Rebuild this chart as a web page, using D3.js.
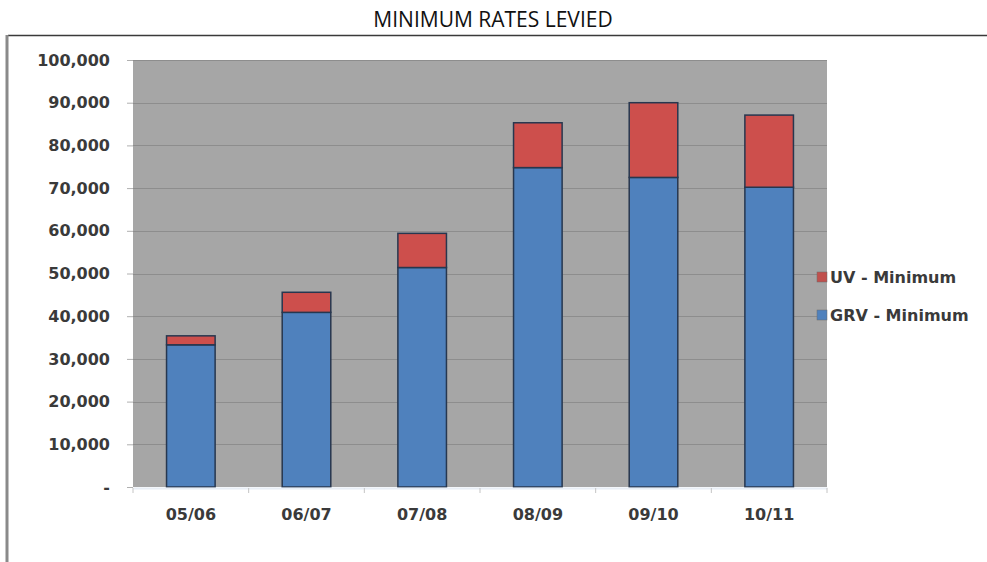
<!doctype html>
<html lang="en">
  <head>
    <meta charset="utf-8">
    <script src="https://cdnjs.cloudflare.com/ajax/libs/d3/7.8.5/d3.min.js"></script>
    <style>
      body { margin: 0; background: #fff; }
      .tick text { font-family: "DejaVu Sans", Verdana, sans-serif; font-weight: bold; font-size: 16px; fill: #3a3a3a; }
      .legend text { font-family: "DejaVu Sans", Verdana, sans-serif; font-weight: bold; font-size: 16px; fill: #3a3a3a; }
    </style>
    <title>Minimum Rates Levied</title>
  </head>
  <body>
    <div id="chart"></div>
    <script>
      // data
      var years = ["05/06", "06/07", "07/08", "08/09", "09/10", "10/11"];
      var grvMinimum = [33300, 40900, 51400, 74800, 72500, 70200];
      var uvMinimum = [2100, 4700, 8000, 10500, 17500, 16900];
      var seriesNames = ["GRV - Minimum", "UV - Minimum"];
      var yTicks = [0, 10000, 20000, 30000, 40000, 50000, 60000, 70000, 80000, 90000, 100000];

      var width = 987, height = 562;
      var plot = {left: 133, right: 827, top: 60, bottom: 487};

      var svg = d3.select("#chart").append("svg")
          .attr("width", width)
          .attr("height", height);

      // title
      svg.append("text")
          .attr("x", 493)
          .attr("y", 27)
          .attr("text-anchor", "middle")
          .style("font-family", "'Open Sans', sans-serif")
          .style("font-size", "21px")
          .style("fill", "#111")
          .text("MINIMUM RATES LEVIED");

      // frame around the chart object
      svg.append("line").attr("x1", 8).attr("x2", 987).attr("y1", 35.5).attr("y2", 35.5)
          .attr("stroke", "#3a3a3a").attr("stroke-width", 1.5);
      svg.append("line").attr("x1", 7).attr("x2", 7).attr("y1", 35).attr("y2", 562)
          .attr("stroke", "#8a8a8a").attr("stroke-width", 3);

      var x = d3.scaleBand()
          .domain(years)
          .range([plot.left, plot.right])
          .paddingInner(0.58)
          .paddingOuter(0.29);

      var y = d3.scaleLinear()
          .domain([0, 100000])
          .range([plot.bottom, plot.top]);

      // plot area
      svg.append("rect")
          .attr("x", plot.left)
          .attr("y", plot.top)
          .attr("width", plot.right - plot.left)
          .attr("height", plot.bottom - plot.top)
          .attr("fill", "#a6a6a6");

      // gridlines
      svg.append("g")
          .selectAll("line")
          .data(yTicks.slice(1))
          .enter().append("line")
            .attr("x1", plot.left)
            .attr("x2", plot.right)
            .attr("y1", d => Math.round(y(d)) + 0.5)
            .attr("y2", d => Math.round(y(d)) + 0.5)
            .attr("stroke", "#8d8d8d")
            .attr("stroke-width", 1);

      // y axis
      var fmt = d3.format(",");
      var yAxis = svg.append("g")
          .attr("transform", "translate(" + plot.left + ",0)")
          .call(d3.axisLeft(y)
              .tickValues(yTicks)
              .tickSize(6)
              .tickPadding(17)
              .tickFormat(d => d === 0 ? "-" : fmt(d)));
      yAxis.select(".domain").remove();
      yAxis.selectAll(".tick line").attr("stroke", "#b0b0b0");

      // stacked bars
      var rows = years.map((yr, i) => ({year: yr, grv: grvMinimum[i], uv: uvMinimum[i]}));
      var stack = d3.stack().keys(["grv", "uv"]);
      var layers = stack(rows);
      var colours = ["#4f81bd", "#cd4f4c"];

      svg.append("g")
          .selectAll("g")
          .data(layers)
          .enter().append("g")
            .attr("fill", (d, i) => colours[i])
          .selectAll("rect")
          .data(d => d)
          .enter().append("rect")
            .attr("x", d => x(d.data.year))
            .attr("y", d => y(d[1]))
            .attr("width", x.bandwidth())
            .attr("height", d => y(d[0]) - y(d[1]))
            .attr("stroke", "#27374f")
            .attr("stroke-width", 1.5);

      // x axis
      var xAxis = svg.append("g")
          .attr("transform", "translate(0," + (plot.bottom + 1) + ")")
          .call(d3.axisBottom(x).tickSize(0).tickPadding(21));
      xAxis.select(".domain").attr("stroke", "#e8eef6").attr("stroke-width", 2);
      // tick marks sit between categories
      xAxis.selectAll(".sep")
          .data(d3.range(years.length + 1))
          .enter().append("line")
            .attr("class", "sep")
            .attr("x1", i => plot.left + i * (plot.right - plot.left) / years.length)
            .attr("x2", i => plot.left + i * (plot.right - plot.left) / years.length)
            .attr("y1", 0)
            .attr("y2", 5)
            .attr("stroke", "#c4c4c4");

      // legend
      var legend = svg.append("g").attr("class", "legend");
      var legendItems = [
        {name: seriesNames[1], colour: "#c0504d", y: 277},
        {name: seriesNames[0], colour: "#4f81bd", y: 315}
      ];
      var item = legend.selectAll("g")
          .data(legendItems)
          .enter().append("g")
            .attr("transform", d => "translate(817," + d.y + ")");
      item.append("rect")
          .attr("x", 0).attr("y", -5)
          .attr("width", 10).attr("height", 10)
          .attr("fill", d => d.colour)
          .attr("stroke", "#6b6b6b").attr("stroke-width", 0.5);
      item.append("text")
          .attr("x", 13)
          .attr("y", 6)
          .text(d => d.name);
    </script>
  </body>
</html>
